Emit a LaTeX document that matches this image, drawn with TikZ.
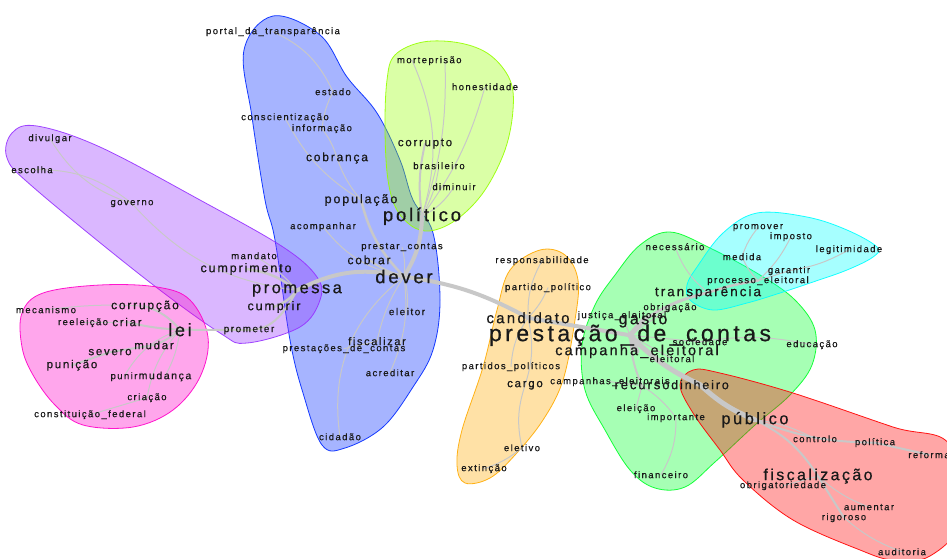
\documentclass[tikz,border=0pt]{standalone}
\usepackage{fontspec}
\newfontfamily\wf[LetterSpace=15,FakeBold=0.6]{Liberation Sans}
\pgfdeclarelayer{halo}
\pgfdeclarelayer{edge}
\pgfsetlayers{halo,edge,main}
\definecolor{hblue}{RGB}{0,40,255}
\definecolor{hpurple}{RGB}{150,50,255}
\definecolor{hpink}{RGB}{255,0,200}
\definecolor{hlime}{RGB}{150,255,0}
\definecolor{horange}{RGB}{255,170,0}
\definecolor{hgreen}{RGB}{0,255,40}
\definecolor{hcyan}{RGB}{0,255,255}
\definecolor{hred}{RGB}{255,0,0}
\definecolor{edgegray}{RGB}{200,200,200}
\definecolor{txt}{RGB}{25,25,25}
\tikzset{
  lbl/.style={font=\wf\fontsize{#1}{#1}\selectfont, inner sep=0pt, anchor=mid, text=txt},
  edg/.style={draw=edgegray, line width=#1, line cap=round},
  halo/.style={fill=#1, fill opacity=0.35, draw=#1, line width=0.8pt, draw opacity=0.9}
}
\begin{document}
\begin{tikzpicture}[x=1pt,y=1pt]
\useasboundingbox (0,0) rectangle (947,-558);
\clip (0,0) rectangle (947,-558);
% ---------- labels ----------
% blue cluster
\node[lbl=9.5] (portal) at (273,-32) {portal\_da\_transparência};
\node[lbl=9.5] (estado) at (333,-93) {estado};
\node[lbl=9.5] (consc) at (285,-118) {conscientização};
\node[lbl=9.5] (inform) at (322,-129) {informação};
\node[lbl=12] (cobranca) at (337,-159) {cobrança};
\node[lbl=12.5] (populacao) at (361,-201) {população};
\node[lbl=9.5] (acomp) at (323,-227) {acompanhar};
\node[lbl=9.5] (prestar) at (402,-247) {prestar\_contas};
\node[lbl=12] (cobrar) at (369,-262) {cobrar};
\node[lbl=18.5] (dever) at (404,-281) {dever};
\node[lbl=10] (eleitor) at (407,-313) {eleitor};
\node[lbl=11] (fiscalizar) at (377,-343) {fiscalizar};
\node[lbl=9.5] (prestacoes) at (344,-349) {prestações\_de\_contas};
\node[lbl=9.5] (acreditar) at (390,-374) {acreditar};
\node[lbl=9.5] (cidadao) at (340,-438) {cidadão};
% purple cluster
\node[lbl=9.5] (divulgar) at (50,-139) {divulgar};
\node[lbl=9.5] (escolha) at (32,-171) {escolha};
\node[lbl=9.5] (governo) at (132,-203) {governo};
\node[lbl=9.5] (mandato) at (254,-257) {mandato};
\node[lbl=12.5] (cumprimento) at (246,-270) {cumprimento};
\node[lbl=16.5] (promessa) at (297,-291) {promessa};
\node[lbl=12.5] (cumprir) at (274,-308) {cumprir};
\node[lbl=10] (prometer) at (249,-330) {prometer};
% pink cluster
\node[lbl=9.5] (mecanismo) at (46,-311) {mecanismo};
\node[lbl=12] (corrupcao) at (145,-307) {corrupção};
\node[lbl=9.5] (reeleicao) at (83,-323) {reeleição};
\node[lbl=11.5] (criar) at (127,-324) {criar};
\node[lbl=18] (lei) at (180,-334) {lei};
\node[lbl=11.5] (mudar) at (154,-347) {mudar};
\node[lbl=11.5] (severo) at (110,-353) {severo};
\node[lbl=11.5] (punicao) at (72,-366) {punição};
\node[lbl=9.5] (punir) at (124,-377) {punir};
\node[lbl=10.5] (mudanca) at (165,-377) {mudança};
\node[lbl=9.5] (criacao) at (147,-398) {criação};
\node[lbl=9.5] (constituicao) at (90,-415) {constituição\_federal};
% politico cluster
\node[lbl=9.5] (morte) at (412,-61) {morte};
\node[lbl=9.5] (prisao) at (445,-61) {prisão};
\node[lbl=9.5] (honestidade) at (485,-88) {honestidade};
\node[lbl=11.5] (corrupto) at (425,-144) {corrupto};
\node[lbl=9.5] (brasileiro) at (439,-167) {brasileiro};
\node[lbl=9.5] (diminuir) at (454,-188) {diminuir};
\node[lbl=18.5] (politico) at (422,-219) {político};
% orange cluster
\node[lbl=9.5] (respons) at (542,-261) {responsabilidade};
\node[lbl=9.5] (partido) at (548,-288) {partido\_político};
\node[lbl=15] (candidato) at (528,-321) {candidato};
\node[lbl=9.5] (partidos) at (511,-367) {partidos\_políticos};
\node[lbl=11.5] (cargo) at (525,-385) {cargo};
\node[lbl=9.5] (eletivo) at (522,-449) {eletivo};
\node[lbl=9.5] (extincao) at (484,-469) {extinção};
% green cluster
\node[lbl=9.5] (justica) at (622,-316) {justiça\_eleitoral};
\node[lbl=16] (gasto) at (643,-322) {gasto};
\node[lbl=9.5] (obrigacao) at (670,-308) {obrigação};
\node[lbl=9.5] (sociedade) at (700,-343) {sociedade};
\node[lbl=23] (prestacao) at (630,-339) {prestação\_de\_contas};
\node[lbl=14.5] (campanha) at (637,-353) {campanha\_eleitoral};
\node[lbl=9.5] (eleitoral) at (672,-360) {eleitoral};
\node[lbl=9.5] (educacao) at (812,-345) {educação};
\node[lbl=9.5] (campanhas) at (610,-382) {campanhas\_eleitorais};
\node[lbl=13] (recurso) at (642,-387) {recurso};
\node[lbl=12.5] (dinheiro) at (700,-387) {dinheiro};
\node[lbl=9.5] (eleicao) at (636,-409) {eleição};
\node[lbl=9.5] (importante) at (676,-418) {importante};
\node[lbl=9.5] (financeiro) at (661,-476) {financeiro};
\node[lbl=9.5] (necessario) at (675,-248) {necessário};
\node[lbl=13.5] (transp) at (708,-294) {transparência};
% cyan cluster
\node[lbl=9.5] (promover) at (758,-227) {promover};
\node[lbl=9.5] (imposto) at (791,-237) {imposto};
\node[lbl=9.5] (legitimidade) at (849,-250) {legitimidade};
\node[lbl=9.5] (medida) at (742,-258) {medida};
\node[lbl=9.5] (garantir) at (789,-271) {garantir};
\node[lbl=9.5] (processo) at (758,-281) {processo\_eleitoral};
% red cluster
\node[lbl=16.5] (publico) at (755,-422) {público};
\node[lbl=9.5] (controlo) at (815,-440) {controlo};
\node[lbl=9.5] (politica) at (875,-443) {política};
\node[lbl=9.5] (reforma) at (929,-456) {reforma};
\node[lbl=16] (fiscalizacao) at (818,-478) {fiscalização};
\node[lbl=9.5] (obrigatoriedade) at (783,-486) {obrigatoriedade};
\node[lbl=9.5] (aumentar) at (869,-508) {aumentar};
\node[lbl=9.5] (rigoroso) at (844,-518) {rigoroso};
\node[lbl=9.5] (auditoria) at (902,-553) {auditoria};
% ---------- halos ----------
\begin{pgfonlayer}{halo}
\draw[halo=hblue] plot[smooth cycle, tension=0.6] coordinates {(273,-16) (320,-35) (347,-77) (377,-113) (400,-160) (413,-200) (433,-233) (440,-300) (433,-350) (413,-387) (383,-427) (345,-448) (322,-445) (303,-393) (290,-340) (275,-240) (265,-200) (252,-117) (244,-50)};
\draw[halo=hpurple] plot[smooth cycle, tension=0.6] coordinates {(12,-133) (37,-126) (100,-147) (200,-200) (283,-247) (317,-277) (320,-300) (300,-327) (247,-343) (220,-333) (143,-277) (33,-187) (7,-158)};
\draw[halo=hpink] plot[smooth cycle, tension=0.6] coordinates {(22,-313) (43,-293) (100,-285) (157,-287) (190,-300) (208,-337) (200,-377) (173,-410) (133,-427) (83,-425) (55,-405) (33,-375) (22,-347)};
\draw[halo=hlime] plot[smooth cycle, tension=0.6] coordinates {(423,-42) (460,-43) (490,-55) (510,-80) (513,-110) (505,-150) (485,-190) (460,-217) (435,-230) (415,-228) (397,-210) (388,-180) (385,-130) (387,-80) (395,-55)};
\draw[halo=horange] plot[smooth cycle, tension=0.6] coordinates {(540,-250) (565,-255) (578,-280) (575,-320) (563,-380) (543,-420) (515,-455) (490,-478) (465,-483) (457,-465) (462,-430) (483,-367) (497,-310) (510,-270)};
\draw[halo=hgreen] plot[smooth cycle, tension=0.6] coordinates {(670,-232) (710,-248) (760,-275) (795,-300) (815,-330) (812,-365) (790,-395) (755,-425) (715,-462) (685,-487) (655,-488) (630,-470) (605,-430) (585,-390) (582,-345) (595,-305) (615,-275) (640,-245)};
\draw[halo=hcyan] plot[smooth cycle, tension=0.6] coordinates {(757,-213) (807,-217) (847,-230) (877,-247) (873,-257) (847,-270) (813,-282) (780,-293) (747,-303) (713,-310) (690,-300) (687,-285) (697,-267) (723,-233)};
\draw[halo=hred] plot[smooth cycle, tension=0.6] coordinates {(693,-370) (720,-373) (793,-393) (893,-427) (950,-445) (960,-520) (930,-556) (893,-560) (860,-550) (793,-520) (743,-480) (720,-450) (693,-413) (680,-385)};
\end{pgfonlayer}
% ---------- edges ----------
\begin{pgfonlayer}{edge}
% blue
\draw[edg=4] (dever.center) to[bend right=20] (promessa.center);
\draw[edg=4] (dever.center) to[bend right=15] (politico.center);
\draw[edg=4] (dever.center) to[bend left=10] (candidato.center);
\draw[edg=2] (dever.center) to[bend left=10] (cobrar.center);
\draw[edg=1] (dever.center) to[bend right=10] (prestar.center);
\draw[edg=2.5] (dever.center) to[bend left=15] (populacao.center);
\draw[edg=1] (populacao.center) to[bend left=10] (cobranca.center);
\draw[edg=1] (cobranca.center) to[bend right=10] (inform.center);
\draw[edg=1] (inform.center) to[bend left=10] (estado.center);
\draw[edg=1] (estado.center) to[bend right=20] (portal.center);
\draw[edg=1] (consc.center) to[bend right=15] (populacao.center);
\draw[edg=1] (dever.center) to[bend left=20] (acomp.center);
\draw[edg=1] (dever.center) to[bend left=10] (eleitor.center);
\draw[edg=1] (dever.center) to[bend right=10] (fiscalizar.center);
\draw[edg=1] (fiscalizar.center) to (prestacoes.center);
\draw[edg=1] (dever.center) to[bend left=15] (acreditar.center);
\draw[edg=1] (dever.center) to[bend right=30] (cidadao.center);
% politico
\draw[edg=2] (politico.center) to[bend left=10] (corrupto.center);
\draw[edg=1] (politico.center) to[bend right=10] (brasileiro.center);
\draw[edg=1] (politico.center) to[bend right=15] (diminuir.center);
\draw[edg=1] (politico.center) to[bend right=20] (morte.center);
\draw[edg=1] (politico.center) to[bend right=10] (prisao.center);
\draw[edg=1] (politico.center) to[bend right=10] (honestidade.center);
% purple
\draw[edg=2.5] (promessa.center) to[bend right=15] (cumprimento.center);
\draw[edg=1] (promessa.center) to[bend right=10] (mandato.center);
\draw[edg=2.5] (promessa.center) to[bend left=15] (cumprir.center);
\draw[edg=2] (promessa.center) to[out=-120,in=0] (prometer.center) to[out=180,in=0] (lei.center);
\draw[edg=1] (promessa.center) to[bend left=20] (governo.center);
\draw[edg=1] (governo.center) to[bend right=20] (escolha.center);
\draw[edg=1] (governo.center) to[bend left=20] (divulgar.center);
% pink
\draw[edg=2] (lei.center) to[bend right=15] (corrupcao.center);
\draw[edg=2] (lei.center) to[bend left=5] (criar.center);
\draw[edg=1] (criar.center) to (reeleicao.center);
\draw[edg=1] (corrupcao.center) to[bend right=5] (mecanismo.center);
\draw[edg=2] (lei.center) to[bend left=10] (mudar.center);
\draw[edg=2] (mudar.center) to (severo.center);
\draw[edg=2] (severo.center) to (punicao.center);
\draw[edg=1] (lei.center) to[bend right=20] (punir.center);
\draw[edg=1] (lei.center) to[bend left=10] (mudanca.center);
\draw[edg=1] (lei.center) to[bend right=15] (criacao.center);
\draw[edg=1] (criacao.center) to (constituicao.center);
% orange
\draw[edg=4] (candidato.center) to (prestacao.center);
\draw[edg=1] (candidato.center) to[bend left=15] (respons.center);
\draw[edg=1] (candidato.center) to[bend right=10] (partido.center);
\draw[edg=1] (candidato.center) to[bend right=15] (partidos.center);
\draw[edg=1] (candidato.center) to[bend left=15] (cargo.center);
\draw[edg=1] (cargo.center) to[bend right=15] (eletivo.center);
\draw[edg=1] (eletivo.center) to[bend left=10] (extincao.center);
% green
\draw[edg=5] (prestacao.center) to (gasto.center);
\draw[edg=1] (prestacao.center) to (justica.center);
\draw[edg=1] (prestacao.center) to (obrigacao.center);
\draw[edg=3] (gasto.center) to[bend left=10] (transp.center);
\draw[edg=1] (transp.center) to[bend left=15] (necessario.center);
\draw[edg=1] (prestacao.center) to (sociedade.center);
\draw[edg=1] (sociedade.center) to[bend left=10] (educacao.center);
\draw[edg=5] (prestacao.center) to (campanha.center);
\draw[edg=1] (prestacao.center) to (eleitoral.center);
\draw[edg=2] (prestacao.center) to[bend right=10] (recurso.center);
\draw[edg=1] (recurso.center) to (campanhas.center);
\draw[edg=1] (recurso.center) to (eleicao.center);
\draw[edg=1] (recurso.center) to[bend left=10] (importante.center);
\draw[edg=1] (importante.center) to[bend left=15] (financeiro.center);
\draw[edg=5] (prestacao.center) to[bend right=10] (dinheiro.center);
\draw[edg=5] (dinheiro.center) to[bend right=10] (publico.center);
% cyan
\draw[edg=2.5] (transp.center) to[bend left=5] (processo.center);
\draw[edg=1] (processo.center) to[bend left=10] (medida.center);
\draw[edg=1] (medida.center) to[bend left=10] (promover.center);
\draw[edg=1] (processo.center) to[bend right=10] (imposto.center);
\draw[edg=1] (processo.center) to (garantir.center);
\draw[edg=1] (garantir.center) to[bend right=10] (legitimidade.center);
% red
\draw[edg=1] (publico.center) to[bend left=10] (controlo.center);
\draw[edg=2] (publico.center) to[bend right=10] (politica.center);
\draw[edg=2] (politica.center) to (reforma.center);
\draw[edg=2] (publico.center) to[bend left=15] (fiscalizacao.center);
\draw[edg=1] (fiscalizacao.center) to (obrigatoriedade.center);
\draw[edg=1] (fiscalizacao.center) to[bend right=10] (aumentar.center);
\draw[edg=2] (fiscalizacao.center) to (rigoroso.center);
\draw[edg=1] (rigoroso.center) to[bend right=10] (auditoria.center);
\end{pgfonlayer}
\end{tikzpicture}
\end{document}
